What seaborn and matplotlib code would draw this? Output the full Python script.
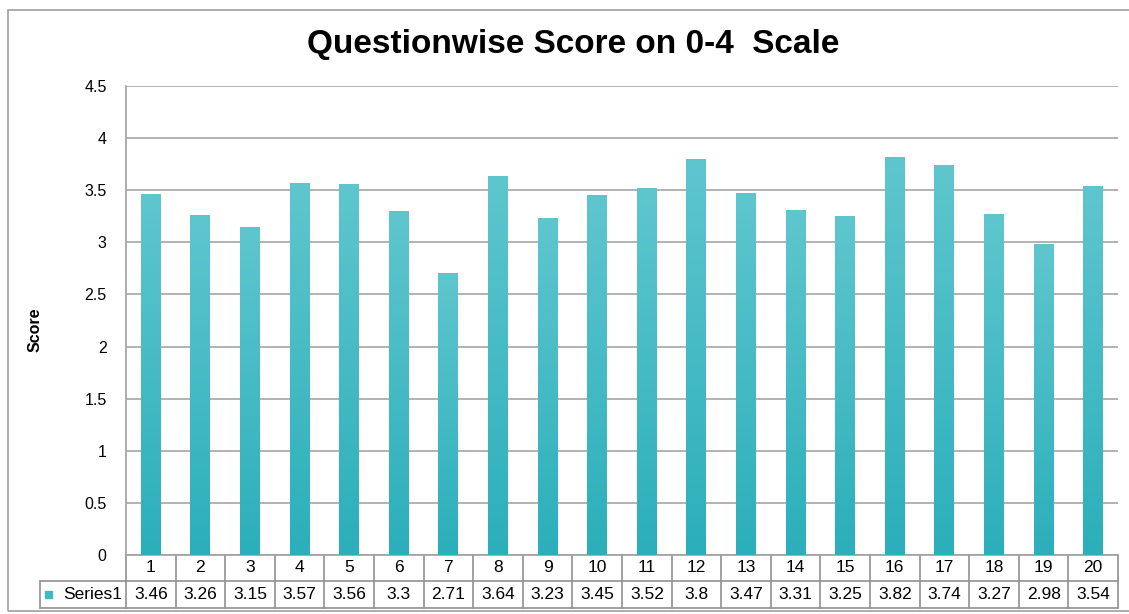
import numpy as np
import pandas as pd
import seaborn as sns
import matplotlib.pyplot as plt
from matplotlib.patches import Rectangle
from matplotlib.colors import LinearSegmentedColormap
import matplotlib.transforms as mtransforms

# data
questions = [str(i) for i in range(1, 21)]
scores = [3.46, 3.26, 3.15, 3.57, 3.56, 3.3, 2.71, 3.64, 3.23, 3.45,
          3.52, 3.8, 3.47, 3.31, 3.25, 3.82, 3.74, 3.27, 2.98, 3.54]
score_labels = ["3.46", "3.26", "3.15", "3.57", "3.56", "3.3", "2.71", "3.64", "3.23", "3.45",
                "3.52", "3.8", "3.47", "3.31", "3.25", "3.82", "3.74", "3.27", "2.98", "3.54"]
series_name = "Series1"
y_ticks = [0, 0.5, 1, 1.5, 2, 2.5, 3, 3.5, 4, 4.5]

df = pd.DataFrame({"question": questions, "score": scores})

sns.set_style("white")
plt.rcParams['font.family'] = ['Liberation Sans', 'DejaVu Sans']
plt.rcParams['text.color'] = 'black'
plt.rcParams['ytick.color'] = 'black'
plt.rcParams['axes.labelcolor'] = 'black'

W, H = 1129, 614
fig = plt.figure(figsize=(W / 100, H / 100), dpi=100)
# outer chart border
fig.patches.append(Rectangle((8 / W, 1 - 611 / H), 1.2, 601 / H, transform=fig.transFigure,
                             fill=False, edgecolor="#a0a0a0", lw=1.2))

ax = fig.add_axes([126 / W, 1 - 555 / H, (1118 - 126) / W, (555 - 86) / H])

top_col = "#5fc6ce"
bot_col = "#2bafba"
sns.barplot(data=df, x="question", y="score", color=bot_col, width=0.4, ax=ax, zorder=3)

# vertical gradient fill on each bar
cmap = LinearSegmentedColormap.from_list("teal", [bot_col, top_col])
grad = np.linspace(0, 1, 256).reshape(-1, 1)
for p in ax.patches:
    x0, y0 = p.get_x(), p.get_y()
    w, h = p.get_width(), p.get_height()
    im = ax.imshow(grad, cmap=cmap, aspect="auto", origin="lower",
                   extent=[x0, x0 + w, y0, y0 + h], zorder=3, vmin=0, vmax=1)
    im.set_clip_path(p)
    p.set_facecolor("none")
    p.set_edgecolor("none")

ax.set_xlim(-0.5, len(questions) - 0.5)
ax.set_ylim(0, 4.5)
ax.set_yticks(y_ticks)
ax.set_yticklabels([f"{t:g}" for t in y_ticks], fontsize=11.5)
ax.tick_params(axis="y", length=0, pad=14)
ax.set_xticks([])
ax.set_xlabel("")
ax.yaxis.grid(True, color="#a6a6a6", lw=1.2, zorder=0)
ax.set_axisbelow(True)
for s in ["top", "right"]:
    ax.spines[s].set_visible(False)
for s in ["left", "bottom"]:
    ax.spines[s].set_color("#a0a0a0")
    ax.spines[s].set_linewidth(1.2)

ax.set_ylabel("Score", fontsize=11.5, fontweight="bold")
ax.yaxis.set_label_coords((43 - 126) / 992, 0.48)
fig.text(573 / W, 1 - 45 / H, "Questionwise Score on 0-4  Scale", ha="center", va="center",
         fontsize=24, fontweight="bold")

# data table under the axis
trans = mtransforms.blended_transform_factory(ax.transData, ax.transAxes)
ah = (555 - 86)
r1 = -26 / ah
r2 = -53 / ah
lc = "#909090"
n = len(questions)
kw = dict(transform=trans, clip_on=False, color=lc, lw=1.2)
for i in range(n + 1):
    ax.plot([i - 0.5, i - 0.5], [0, r2], **kw)
ax.plot([-0.5, n - 0.5], [r1, r1], **kw)
ax.plot([-0.5, n - 0.5], [r2, r2], **kw)
# row label cell
xl = -0.5 - (126 - 40) / (992 / n)
ax.plot([xl, -0.5], [r1, r1], **kw)
ax.plot([xl, -0.5], [r2, r2], **kw)
ax.plot([xl, xl], [r1, r2], **kw)

for i, (q, lab) in enumerate(zip(questions, score_labels)):
    ax.text(i, r1 / 2, q, transform=trans, ha="center", va="center", fontsize=12.5, clip_on=False)
    ax.text(i, (r1 + r2) / 2, lab, transform=trans, ha="center", va="center", fontsize=12.5,
            clip_on=False)
ax.text(-0.5 - 0.08, (r1 + r2) / 2, series_name, transform=trans, ha="right", va="center",
        fontsize=12.5, clip_on=False)
ax.add_patch(Rectangle((xl + 0.1, (r1 + r2) / 2 - 0.008), 0.14, 0.016, transform=trans,
                       color="#3dbac4", clip_on=False))

fig.savefig("out.png", dpi=100)
